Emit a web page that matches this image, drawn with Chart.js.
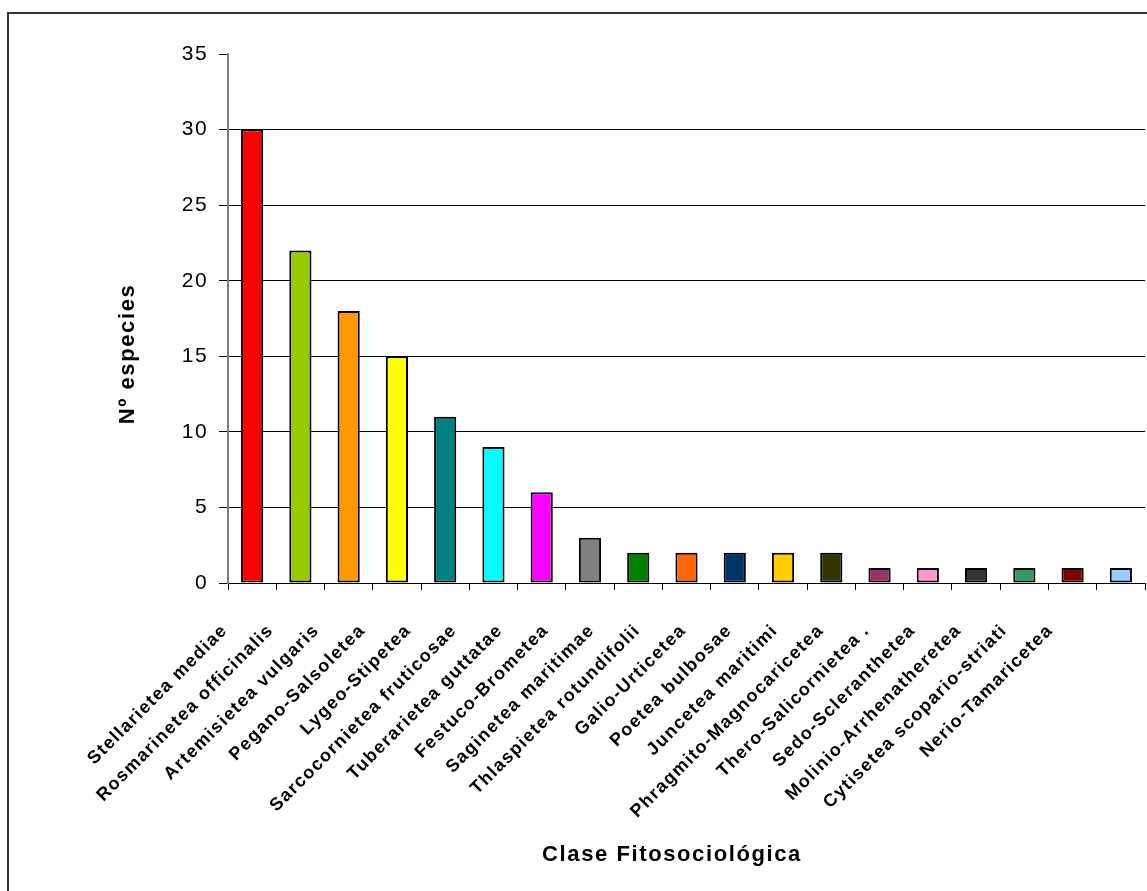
<!DOCTYPE html>
<html>
<head>
<meta charset="utf-8">
<script src="https://cdn.jsdelivr.net/npm/chart.js@4.4.1/dist/chart.umd.min.js"></script>
<style>
  html, body { margin: 0; padding: 0; background: #fff; }
  #wrap { width: 1147px; height: 891px; position: relative; }
</style>
</head>
<body>
<div id="wrap"><canvas id="c" width="1147" height="891"></canvas></div>
<script>
// Phytosociological classes and number of species in each
const categories = [
  'Stellarietea mediae', 'Rosmarinetea officinalis', 'Artemisietea vulgaris',
  'Pegano-Salsoletea', 'Lygeo-Stipetea', 'Sarcocornietea fruticosae',
  'Tuberarietea guttatae', 'Festuco-Brometea', 'Saginetea maritimae',
  'Thlaspietea rotundifolii', 'Galio-Urticetea', 'Poetea bulbosae',
  'Juncetea maritimi', 'Phragmito-Magnocaricetea', 'Thero-Salicornietea .',
  'Sedo-Scleranthetea', 'Molinio-Arrhenatheretea', 'Cytisetea scopario-striati',
  'Nerio-Tamaricetea'
];
const species = [30, 22, 18, 15, 11, 9, 6, 3, 2, 2, 2, 2, 2, 1, 1, 1, 1, 1, 1];
const barColors = [
  '#FF0000', '#99CC00', '#FF9900', '#FFFF00', '#008080', '#00FFFF',
  '#FF00FF', '#808080', '#008000', '#FF6600', '#003366', '#FFCC00',
  '#333300', '#993366', '#FF99CC', '#333333', '#339966', '#800000', '#99CCFF'
];
const yTicks = [0, 5, 10, 15, 20, 25, 30, 35];
const yTitle = 'Nº especies';
const xTitle = 'Clase Fitosociológica';

const FONT = "Arial, 'Liberation Sans', sans-serif";
const yMax = yTicks[yTicks.length - 1];

// The category names sit on their own bottom axis, spaced slightly tighter
// than the bars (one trailing empty slot).
const labelSlots = categories.concat(['']);

// Frame around the chart and the two axis titles
const framePlugin = {
  id: 'frameAndTitles',
  beforeDraw(chart) {
    const ctx = chart.ctx;
    ctx.save();
    ctx.fillStyle = '#fff';
    ctx.fillRect(0, 0, chart.width, chart.height);
    ctx.strokeStyle = '#333';
    ctx.lineWidth = 2;
    ctx.strokeRect(8, 13, chart.width + 20, chart.height + 20);
    ctx.restore();
    ctx.letterSpacing = '1.4px';
  },
  afterDraw(chart) {
    const ctx = chart.ctx;
    ctx.save();
    ctx.fillStyle = '#000';
    ctx.font = 'bold 22px ' + FONT;
    ctx.letterSpacing = '1.6px';
    ctx.textAlign = 'center';
    ctx.textBaseline = 'middle';
    ctx.fillText(xTitle, 672, 855);
    ctx.translate(128, 354);
    ctx.rotate(-Math.PI / 2);
    ctx.fillText(yTitle, 0, 0);
    ctx.restore();
  }
};

new Chart(document.getElementById('c'), {
  type: 'bar',
  data: {
    labels: categories,
    datasets: [{
      data: species,
      backgroundColor: barColors,
      borderColor: '#000',
      borderWidth: 2,
      borderSkipped: false,
      barPercentage: 0.46,
      categoryPercentage: 1.0
    }]
  },
  options: {
    responsive: false,
    animation: false,
    devicePixelRatio: 1,
    layout: { padding: { top: 54, right: 2, bottom: 0, left: 0 } },
    plugins: {
      legend: { display: false },
      tooltip: { enabled: false },
      title: { display: false }
    },
    scales: {
      x: {
        weight: 0,
        offset: true,
        grid: {
          display: true,
          offset: true,
          drawOnChartArea: false,
          color: '#000',
          lineWidth: 1,
          tickLength: 7
        },
        border: { display: true, color: '#000', width: 1 },
        ticks: { display: false, autoSkip: false },
        afterFit(scale) {
          scale.height = 8;
          scale.paddingLeft = 0;
          scale.paddingRight = 0;
        }
      },
      xl: {
        type: 'category',
        position: 'bottom',
        weight: 1,
        labels: labelSlots,
        offset: true,
        grid: { display: false, drawTicks: false },
        border: { display: false },
        ticks: {
          autoSkip: false,
          maxRotation: 45,
          minRotation: 45,
          padding: 29,
          labelOffset: -26,
          color: '#000',
          font: { family: FONT, size: 18, weight: 'bold' }
        },
        afterFit(scale) {
          scale.height = 300;
          scale.paddingLeft = 0;
          scale.paddingRight = 0;
        }
      },
      y: {
        min: 0,
        max: yMax,
        afterBuildTicks(scale) {
          scale.ticks = yTicks.map(v => ({ value: v }));
        },
        grid: {
          color: (c) => (c.tick && c.tick.value === yMax) ? 'rgba(0,0,0,0)' : '#000',
          tickColor: '#000',
          lineWidth: 1,
          tickLength: 9
        },
        border: { display: true, color: '#808080', width: 2 },
        ticks: {
          padding: 11,
          color: '#000',
          font: { family: FONT, size: 21 }
        },
        afterFit(scale) {
          scale.width = 228;
        }
      }
    }
  },
  plugins: [framePlugin]
});
</script>
</body>
</html>
